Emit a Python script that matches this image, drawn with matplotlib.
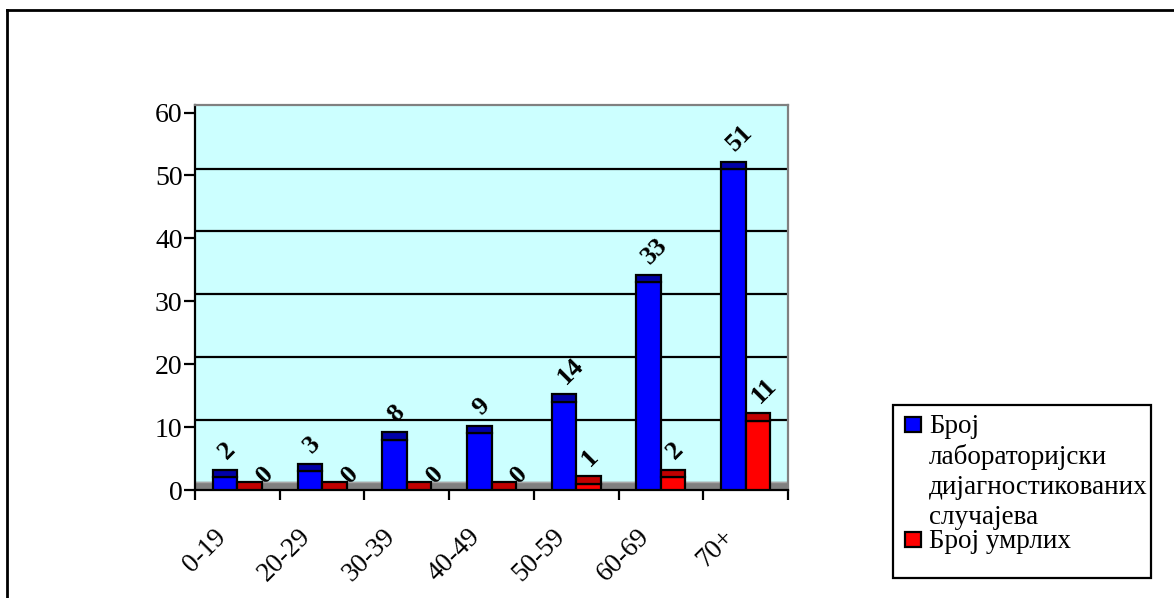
import matplotlib
matplotlib.use('Agg')
import numpy as np
import matplotlib.pyplot as plt
from matplotlib.patches import Rectangle
from matplotlib.lines import Line2D

plt.rcParams['font.family'] = ['Liberation Serif', 'DejaVu Serif']

# ---- data ----
age_groups = ['0-19', '20-29', '30-39', '40-49', '50-59', '60-69', '70+']
lab_cases = [2, 3, 8, 9, 14, 33, 51]
deaths = [0, 0, 0, 0, 1, 2, 11]
series_names = ['Број\nлабораторијски\nдијагностикованих\nслучајева', 'Број умрлих']
y_ticks = [0, 10, 20, 30, 40, 50, 60]

front_cols = ['#0000ff', '#ff0000']
top_cols = ['#0000a8', '#c00000']
depth = 1.2      # fake 3d depth (data units)
bar_w = 0.29
W, H = 1174, 598

fig = plt.figure(figsize=(W / 100, H / 100), dpi=100)
ax = fig.add_axes([195 / W, 108 / H, 593 / W, 385 / H])
ax.set_facecolor('#ccffff')
ax.set_xlim(-0.5, len(age_groups) - 0.5)
ax.set_ylim(0, 61.2)

# floor + back wall gridlines
ax.axhspan(0, depth, color='#808080', zorder=1)
ax.axhline(depth, color='#a8a8a8', lw=1, zorder=1.2)
ax.hlines([t + depth * 0.92 for t in y_ticks[1:-1]], -0.5, len(age_groups) - 0.5,
          color='black', lw=1.6, zorder=1.5)

x = np.arange(len(age_groups))
for s, vals in enumerate([lab_cases, deaths]):
    xs = x + (s - 0.5) * bar_w
    ax.bar(xs, vals, bar_w, color=front_cols[s], edgecolor='black', lw=1.6, zorder=3)
    ax.bar(xs, [depth] * len(vals), bar_w, bottom=vals, color=top_cols[s],
           edgecolor='black', lw=1.6, zorder=3)
    for xi, v in zip(xs, vals):
        # excel puts labels of empty bars a bit lower and to the right
        off = (11, 3) if v == 0 else (-3, 14)
        ax.annotate(str(v), xy=(xi, v + depth), xytext=off, textcoords='offset pixels',
                    rotation=45, rotation_mode='anchor', ha='left', va='center',
                    fontsize=19, fontweight='bold', zorder=4)

# spines
for side in ['left', 'bottom']:
    ax.spines[side].set_color('black')
    ax.spines[side].set_linewidth(1.6)
for side in ['top', 'right']:
    ax.spines[side].set_color('#808080')
    ax.spines[side].set_linewidth(1.6)

ax.set_yticks(y_ticks)
ax.tick_params(axis='y', direction='out', length=8, width=1.6, labelsize=20, pad=1)
ax.set_xticks(np.arange(len(age_groups) + 1) - 0.5)
ax.set_xticklabels([])
ax.tick_params(axis='x', direction='out', length=7, width=1.6)

for i, lab in enumerate(age_groups):
    ax.annotate(lab, xy=(i, 0), xycoords=('data', 'axes fraction'), xytext=(-15, -43),
                textcoords='offset pixels', rotation=45, rotation_mode='anchor',
                ha='right', va='center', fontsize=19.5)

# ---- legend (drawn by hand, Excel style) ----
fig.add_artist(Rectangle((893 / W, 1 - 578 / H), (1151 - 893) / W, (578 - 405) / H,
                         transform=fig.transFigure, facecolor='white', edgecolor='black', lw=1.6))
base = 433
for s, name in enumerate(series_names):
    fig.add_artist(Rectangle((905 / W, 1 - (base - 1) / H), 16 / W, 15 / H,
                             transform=fig.transFigure, facecolor=front_cols[s],
                             edgecolor='black', lw=1.6))
    for k, line in enumerate(name.split('\n')):
        fig.text(929 / W, 1 - base / H, line, fontsize=19.5, va='baseline', ha='left')
        base += 30.5
    base -= 30.5 - 23

# outer chart frame (only left and top visible)
fig.add_artist(Line2D([7 / W, 7 / W], [0, 1 - 10 / H], transform=fig.transFigure,
                      color='black', lw=2))
fig.add_artist(Line2D([7 / W, 1], [1 - 10 / H, 1 - 10 / H], transform=fig.transFigure,
                      color='black', lw=2))

fig.savefig('out.png', dpi=100)
